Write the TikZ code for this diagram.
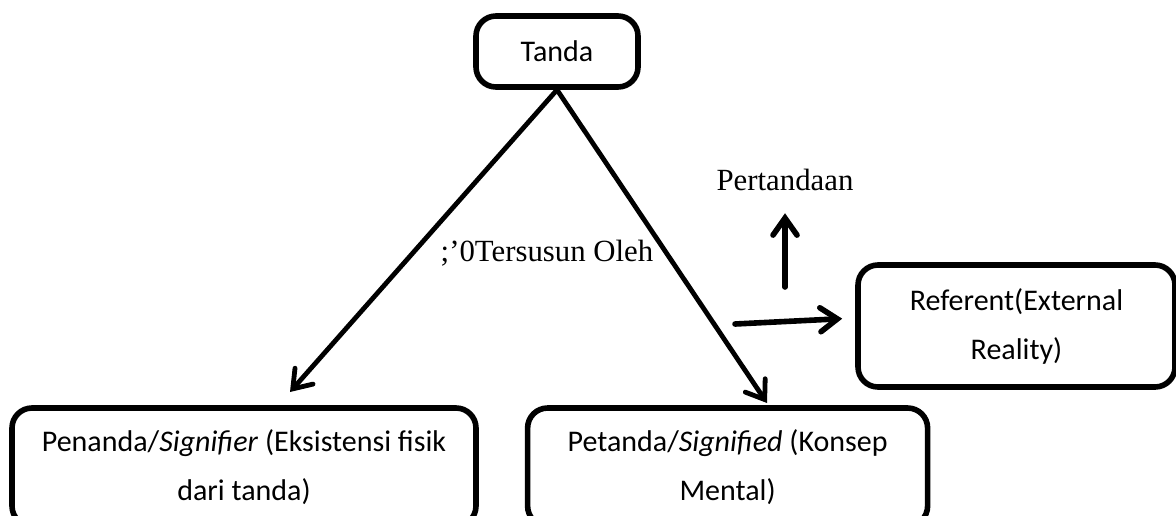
\documentclass[tikz,border=0pt]{standalone}
\usepackage{fontspec}
\setmainfont{Carlito}
\newfontfamily\timesfont{Liberation Serif}
\usetikzlibrary{positioning,calc,arrows.meta}

\tikzset{
  kotak/.style={draw, line width=2.8pt, rounded corners=10pt, align=center,
    inner sep=0pt, font=\fontsize{15}{24.5}\selectfont},
  panah/.style={line width=2.4pt, line cap=round,
    -{Straight Barb[length=8.5pt,width=12pt,line cap=round]}},
  teks/.style={inner sep=0pt, font=\timesfont\fontsize{15.4}{18}\selectfont},
}

\begin{document}
\begin{tikzpicture}[x=0.5pt,y=-0.5pt]
   \useasboundingbox (0,0) rectangle (1176,515);
   \clip (0,0) rectangle (1176,515);

   % tanda di atas
   \node[kotak, minimum width=81pt, minimum height=35.5pt] (tanda) at (557,51.5) {Tanda};

   % dua kotak bawah
   \node[kotak, minimum width=232pt, minimum height=59pt] (penanda) at (244,467)
      {Penanda/\textit{Signifier} (Eksistensi fisik\\dari tanda)};
   \node[kotak, minimum width=200pt, minimum height=59pt, right=23pt of penanda] (petanda)
      {Petanda/\textit{Signified} (Konsep\\Mental)};

   % referent
   \node[kotak, minimum width=158.5pt, minimum height=61pt] (referent) at (1016.5,326)
      {Referent(External\\Reality)};

   % label
   \node[teks] (susun) at (547,253) {;’0Tersusun Oleh};
   \node[teks] (pert) at (785,180) {Pertandaan};

   % ujung dan pangkal panah
   \coordinate (ujungA) at (290,392);
   \coordinate (ujungB) at (767,403);
   \coordinate (pangkalA) at (785,287);
   \coordinate (pangkalB) at (735,324);

   \draw[panah] (tanda.south) -- (ujungA);
   \draw[panah] (tanda.south) -- (ujungB);
   \draw[panah, line width=2.8pt, shorten >=11pt] (pangkalA) -- (pert.south);
   \draw[panah, line width=2.8pt, shorten >=6.5pt] (pangkalB) -- ($(referent.west)+(0,-8)$);

\end{tikzpicture}
\end{document}
